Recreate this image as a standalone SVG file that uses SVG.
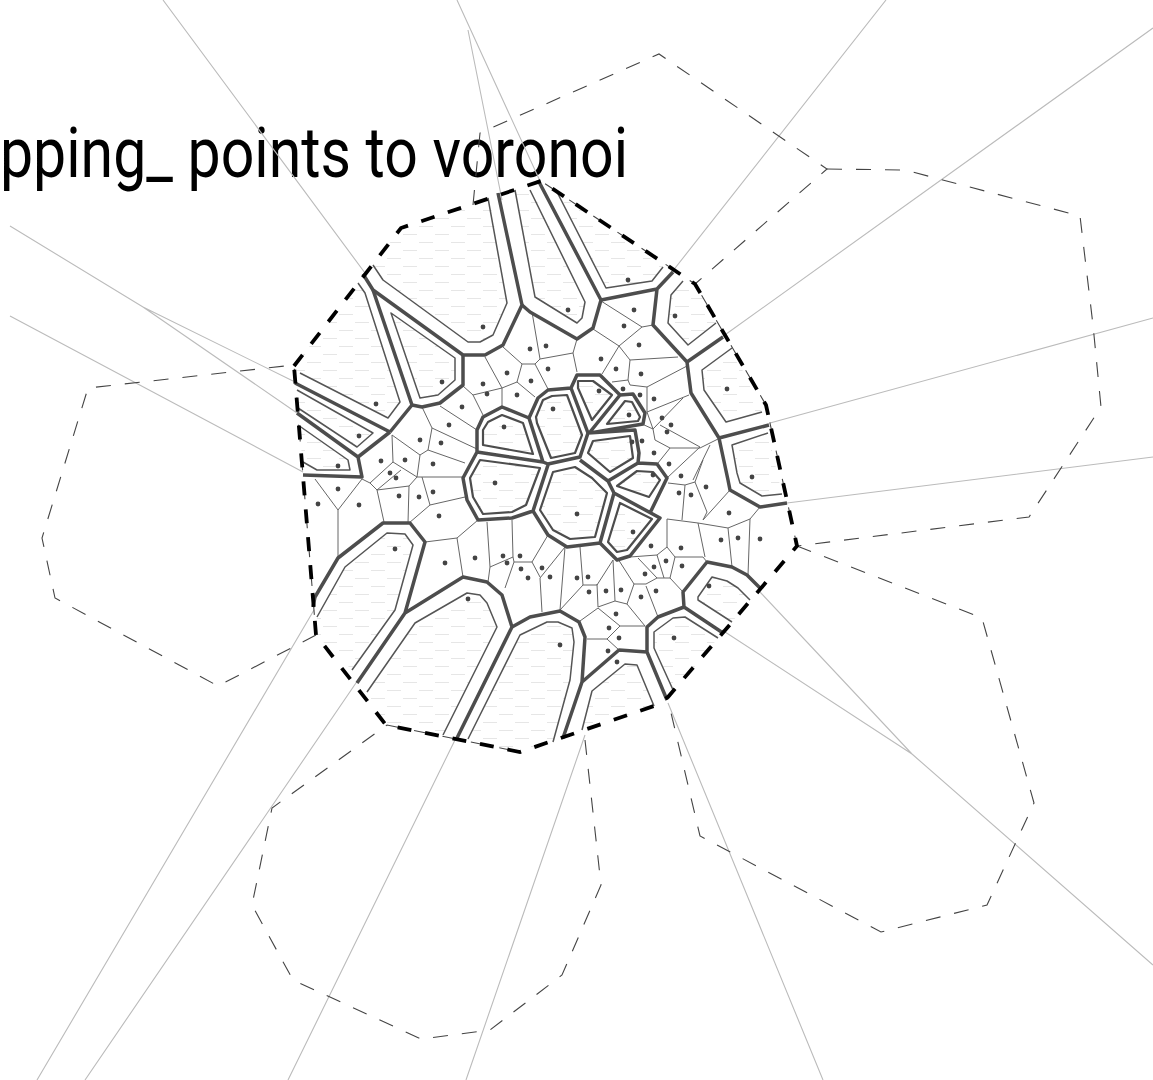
<svg xmlns="http://www.w3.org/2000/svg" width="1153" height="1080" viewBox="0 0 1153 1080">
<style>
.t{font-family:"Roboto","Liberation Sans",sans-serif;font-size:70px;fill:#000}
.ray{fill:none;stroke:#bbb;stroke-width:1.1}
.nb{fill:none;stroke:#444;stroke-width:1.1;stroke-dasharray:15 14}
.bd{fill:none;stroke:#000;stroke-width:3.8;stroke-dasharray:14 14}
.f{fill:none;stroke:#666;stroke-width:1}
.th{fill:none;stroke:#4d4d4d;stroke-width:3.5;stroke-linejoin:round}
.h{fill:url(#hatch);stroke:none}
.i{fill:none;stroke:#555;stroke-width:1.5;stroke-linejoin:round}
.ic{fill:url(#hatch);stroke:#4d4d4d;stroke-width:2.2;stroke-linejoin:round}
.d circle{fill:#444;r:2.4px}
</style>
<defs>
<pattern id="hatch" patternUnits="userSpaceOnUse" width="32" height="16" x="3" y="2">
<path d="M0 .5H14M16 8.5H30" stroke="#e6e6e6" stroke-width="1" fill="none"/>
</pattern>
</defs>
<text class="t" x="0" y="177" textLength="628" lengthAdjust="spacingAndGlyphs">pping_ points to voronoi</text>
<g id="cells">
<g id="cell-topleft"><path class="h" d="M373 265L401 228L490 198L507 303L493 335L480 342L468 342L383 280Z"/><path class="i" d="M373 265L383 280L468 342H480L493 335L507 303L488 198"/></g>
<g id="cell-upper"><path class="h" d="M391 313L455 358V380L438 395L420 398Z"/><path class="i" d="M391 313L455 358V380L438 395L420 398Z"/></g>
<g id="cell-left1"><path class="h" d="M365 293L400 402L388 418L298 373L294 366L360 282Z"/><path class="i" d="M358 283L365 293L400 402L388 418L300 373"/></g>
<g id="cell-left2"><path class="h" d="M297 390L373 433L357 447L298 408Z"/><path class="i" d="M297 390L373 433L357 447L298 408"/></g>
<g id="cell-left3"><path class="h" d="M298 425L348 460L350 470H317L303 462Z"/><path class="i" d="M298 425L348 460L350 470H317L303 462"/></g>
<g id="cell-top1"><path class="h" d="M515 190L535 297L577 323L582 318L585 302L530 185Z"/><path class="i" d="M515 190L535 297L577 323L582 318L585 302L530 190"/></g>
<g id="cell-top2"><path class="h" d="M560 195L606 288L652 281L663 267Z"/><path class="i" d="M556 190L606 288L652 281L663 267"/></g>
<g id="cell-right1"><path class="h" d="M683 281L671 295L668 323L688 345L716 323L695 284Z"/><path class="i" d="M683 281L671 295L668 323L688 345L716 323"/></g>
<g id="cell-right2"><path class="h" d="M732 348L702 370L704 390L726 422L762 412Z"/><path class="i" d="M732 348L702 370L704 390L726 422L762 412"/></g>
<g id="cell-right3"><path class="h" d="M768 433L732 445L740 483L762 496L782 494Z"/><path class="i" d="M768 433L732 445L737 473L740 483L762 496L782 494"/></g>
<g id="cell-lr1"><path class="h" d="M750 600L738 588L727 581L712 577L698 597V600L732 622Z"/><path class="i" d="M750 600L738 588L727 581L712 577L698 597V600L732 622"/></g>
<g id="cell-lr2"><path class="h" d="M718 638L685 617H673L654 632V648L674 692Z"/><path class="i" d="M718 638L685 617L673 618L654 632V648L674 692"/></g>
<g id="cell-b1"><path class="h" d="M654 706L637 665L625 664L592 691L582 730Z"/><path class="i" d="M654 706L637 665L625 664L592 691L582 730"/></g>
<g id="cell-b2"><path class="h" d="M553 742L570 680L574 642L572 628L558 622H547L520 635L468 739L520 752Z"/><path class="i" d="M553 742L570 680L574 642L572 628L558 622L547 622L520 635L468 739"/></g>
<g id="cell-b3"><path class="h" d="M443 735L497 627L487 603L480 595L467 593L415 623L367 692L386 725Z"/><path class="i" d="M443 735L497 627L487 603L480 595L467 593L415 623L367 692"/></g>
<g id="cell-b4"><path class="h" d="M352 670L395 610L413 545L405 534L387 533L345 567L317 617L316 635Z"/><path class="i" d="M352 670L395 610L413 545L405 534L387 533L345 567L317 617"/></g>
<g id="cell-c1"><path class="ic" d="M483 445V430L488 422L502 415L523 423L533 454Z"/></g>
<g id="cell-c2"><path class="ic" d="M536 417L543 400L552 396L567 395L582 435L575 453L551 458L537 423Z"/></g>
<g id="cell-c3"><path class="ic" d="M578 381H593L612 395L592 420L578 388Z"/></g>
<g id="cell-c4"><path class="ic" d="M625 401L632 402L640 417L638 421L607 424Z"/></g>
<g id="cell-c5"><path class="ic" d="M593 441L630 436L633 458L610 472L588 453Z"/></g>
<g id="cell-c6"><path class="ic" d="M637 471L653 472L660 480L649 497L617 486Z"/></g>
<g id="cell-c7"><path class="ic" d="M620 503L652 519L627 550L617 552L608 542Z"/></g>
<g id="cell-c8"><path class="ic" d="M553 472L575 467L592 478L607 493L595 537L570 539L553 530L540 510Z"/></g>
<g id="cell-c9"><path class="ic" d="M480 460L540 468L526 505L512 512L483 514L473 497L470 478Z"/></g>
</g>
<g id="connectors">
<g id="fine">
<path class="f" d="M485 357L502 388M503 347L522 364L517 382L502 388L473 395L483 415M463 386L473 395M502 388V407M517 382L535 397M532 312L540 359L535 364L522 364M540 359L573 353L577 339M573 353L577 372M535 364L548 389"/>
<path class="f" d="M440 406L477 430M422 407L432 428L477 449M432 428L428 450L420 455L392 435L393 462L370 483M428 450L465 463M420 455L417 477L393 462M362 479L370 483L377 490L401 470M377 490L409 486L417 477H463M422 477L430 505L465 497M430 505L409 523M409 486L408 523M377 490L384 522M362 479L338 510L315 479M338 510V558"/>
<path class="f" d="M425 542L457 538L478 520M457 538L463 577M487 522L490 567L488 582M512 520L513 557L490 567M513 557L514 562H532L548 535M532 562L540 577M514 562L505 588"/>
<path class="f" d="M565 547L540 578L542 612M565 547L560 610M580 547L583 585L560 610M583 585H597L613 560M597 584L598 607L615 601L613 560M615 601L627 604L634 584L618 559M634 584H646L657 578L638 558M657 578H670L683 592M646 586L658 617M627 604L645 626H620L598 608L580 621M620 626L607 639H587M607 639L619 650"/>
<path class="f" d="M630 557L657 555L667 547L675 557L670 578M657 555L664 578M675 557H703L707 562M667 547V519L698 523L705 557M698 523L728 528L750 519L760 507M750 519L748 575M728 528L732 567M703 520L730 490M703 520L707 512L695 482L703 460M682 520L685 485L695 482M685 485L668 483"/>
<path class="f" d="M601 301L642 327L653 325M642 327L619 346L593 329M619 346L630 360L678 357M619 346L602 374M630 360L628 380L612 382M628 380L630 385L647 387L687 366M647 387V412L689 395M647 412L653 429L683 398M653 429L655 440L670 448H700L720 438M660 425L700 447M670 448L658 463M700 447L667 478M710 445L693 480M642 424L653 429"/>
</g>
<g id="rays">
<path class="ray" d="M163 0L365 273M457 0L540 181M468 30L502 200M886 0L672 272M1153 28L722 337M1153 318L770 423M1153 457L787 503M760 592L912 754L1153 965M912 754L722 630M668 703L823 1080M585 735L466 1080M455 740L288 1080M358 680L85 1080M314 610L37 1080M10 226L143 307L293 381M143 307L297 413M10 316L303 472"/>
</g>
<g id="neighbours">
<path class="nb" d="M473 205L480 133L659 54L827 169L695 284L541 181"/>
<path class="nb" d="M827 169L905 170L1080 216L1093 325L1101 407L1029 517L797 546L766 405L695 284"/>
<path class="nb" d="M797 546L982 618L1034 803L987 905L881 932L700 836L668 700"/>
<path class="nb" d="M585 740L601 885L562 975L490 1030L421 1039L293 980L252 905L272 808L387 725L520 752"/>
<path class="nb" d="M316 635L218 686L55 598L42 538L88 388L294 365L316 635"/>
</g>
<g id="thick">
<path class="th" d="M363 274L373 290L463 355H485L503 345L522 305L498 193"/>
<path class="th" d="M522 305L530 312L577 339L593 328L601 300L538 180"/>
<path class="th" d="M601 300L657 289L673 272M657 289L653 325L687 362L723 337M687 362L691 393L719 438L769 425M719 438L728 480L730 490L760 507L787 503"/>
<path class="th" d="M760 588L747 575L732 567L707 562L683 592L684 607L723 633M684 607L658 617L647 627V652L667 700M647 652L619 650L582 682L563 738M582 682L585 637L579 622L560 611L530 617L512 627L502 595L487 582L463 577L405 613L357 683M512 627L457 738M405 613L425 542L410 523H383L338 558L315 597L313 607"/>
<path class="th" d="M390 432L412 405L373 290M412 405L422 407L440 403L463 385V355M390 432L295 383M390 432L358 457L362 477L303 475M358 457L297 413"/>
<path class="th" d="M477 452V430L483 417L502 407L529 418L543 462L477 452ZM529 418L538 398L548 390L571 388L588 433L580 457L548 464L543 462M571 388L577 375H600L620 395L590 432M620 395L633 394L645 413L643 424L590 433M588 433L635 430L639 453L638 463L608 481L580 460M638 463L657 464L667 478L650 513M608 481L614 493M614 493L660 518L630 556L617 560L600 543L614 493M548 465L533 511L548 535L567 547L600 543M477 452L463 478L467 500L478 520L512 518L533 511"/>
</g>
<path id="boundary" class="bd" d="M294 366L401 228L541 181L695 284L766 405L797 546L668 697L654 706L520 752L386 725L316 635Z"/>
</g>
<g id="points" class="d">
<circle cx="483" cy="327"/><circle cx="442" cy="382"/><circle cx="376" cy="404"/><circle cx="359" cy="436"/><circle cx="338" cy="466"/><circle cx="530" cy="349"/><circle cx="546" cy="346"/><circle cx="548" cy="369"/><circle cx="507" cy="373"/><circle cx="483" cy="384"/><circle cx="487" cy="394"/><circle cx="531" cy="381"/><circle cx="517" cy="395"/><circle cx="462" cy="407"/><circle cx="504" cy="427"/><circle cx="449" cy="425"/><circle cx="420" cy="440"/><circle cx="441" cy="443"/><circle cx="433" cy="464"/><circle cx="405" cy="460"/><circle cx="381" cy="461"/><circle cx="390" cy="473"/><circle cx="396" cy="478"/>
<circle cx="338" cy="489"/><circle cx="318" cy="504"/><circle cx="359" cy="505"/><circle cx="399" cy="496"/><circle cx="419" cy="497"/><circle cx="433" cy="492"/><circle cx="439" cy="516"/><circle cx="495" cy="483"/><circle cx="395" cy="549"/><circle cx="445" cy="563"/><circle cx="475" cy="558"/><circle cx="503" cy="556"/><circle cx="520" cy="556"/><circle cx="507" cy="563"/><circle cx="521" cy="569"/><circle cx="528" cy="578"/><circle cx="542" cy="568"/><circle cx="550" cy="577"/><circle cx="468" cy="599"/>
<circle cx="577" cy="578"/><circle cx="588" cy="577"/><circle cx="589" cy="592"/><circle cx="606" cy="591"/><circle cx="621" cy="590"/><circle cx="645" cy="574"/><circle cx="654" cy="567"/><circle cx="666" cy="561"/><circle cx="651" cy="546"/><circle cx="681" cy="548"/><circle cx="682" cy="566"/><circle cx="656" cy="591"/><circle cx="641" cy="597"/><circle cx="616" cy="614"/><circle cx="609" cy="628"/><circle cx="619" cy="638"/><circle cx="608" cy="651"/><circle cx="617" cy="662"/><circle cx="674" cy="638"/><circle cx="560" cy="645"/><circle cx="709" cy="586"/><circle cx="721" cy="540"/><circle cx="738" cy="538"/><circle cx="760" cy="539"/><circle cx="729" cy="513"/><circle cx="706" cy="487"/><circle cx="679" cy="493"/><circle cx="691" cy="495"/><circle cx="681" cy="476"/><circle cx="669" cy="464"/><circle cx="653" cy="475"/><circle cx="752" cy="477"/><circle cx="577" cy="514"/><circle cx="633" cy="532"/>
<circle cx="568" cy="310"/><circle cx="628" cy="280"/><circle cx="634" cy="310"/><circle cx="624" cy="326"/><circle cx="675" cy="316"/><circle cx="639" cy="345"/><circle cx="601" cy="359"/><circle cx="616" cy="369"/><circle cx="641" cy="374"/><circle cx="727" cy="389"/><circle cx="599" cy="391"/><circle cx="553" cy="409"/><circle cx="623" cy="389"/><circle cx="640" cy="395"/><circle cx="654" cy="399"/><circle cx="629" cy="415"/><circle cx="662" cy="418"/><circle cx="671" cy="425"/><circle cx="667" cy="432"/><circle cx="642" cy="441"/><circle cx="632" cy="442"/><circle cx="654" cy="453"/>
</g>
</svg>
